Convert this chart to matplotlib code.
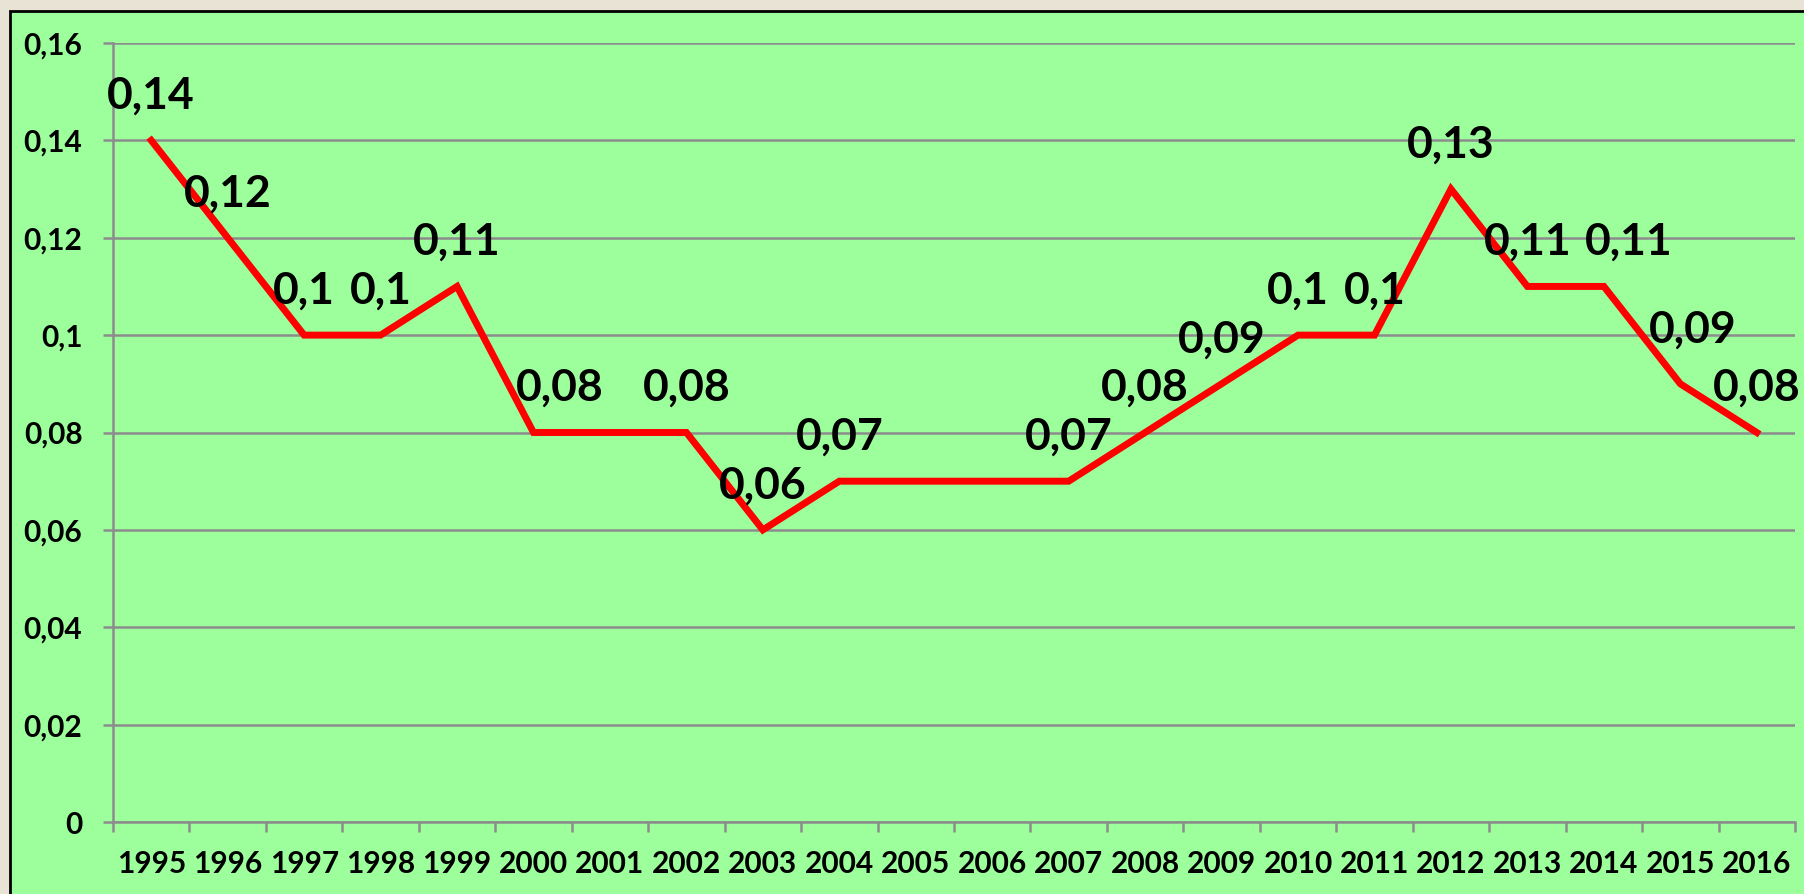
import numpy as np
import matplotlib.pyplot as plt
from matplotlib.patches import Rectangle
from matplotlib.ticker import FixedLocator, FuncFormatter

# Data
years = ['1995', '1996', '1997', '1998', '1999', '2000', '2001', '2002', '2003', '2004', '2005',
         '2006', '2007', '2008', '2009', '2010', '2011', '2012', '2013', '2014', '2015', '2016']
values = [0.14, 0.12, 0.10, 0.10, 0.11, 0.08, 0.08, 0.08, 0.06, 0.07, 0.07,
          0.07, 0.07, 0.08, 0.09, 0.10, 0.10, 0.13, 0.11, 0.11, 0.09, 0.08]
# which points carry a value label
show_label = [1, 1, 1, 1, 1, 1, 0, 1, 1, 1, 0,
              0, 1, 1, 1, 1, 1, 1, 1, 1, 1, 1]
# small label nudges (points), where the original shifted them
label_dx = {5: 19, 19: 18, 20: 9}
label_dy = {20: 39}

plt.rcParams['font.family'] = ['Lato', 'DejaVu Sans']
plt.rcParams['font.weight'] = 'bold'

green = '#9cff9c'
grid_gray = '#8c8c8c'

fig = plt.figure(figsize=(18.04, 8.94), dpi=100, facecolor='#e8e3d5')
fig.patches.append(Rectangle((10 / 1804, -0.01), 1.0, 1 - 11 / 894 + 0.01,
                             transform=fig.transFigure, facecolor=green,
                             edgecolor='black', linewidth=2, zorder=-5))

ax = fig.add_axes([113 / 1804, 1 - 822 / 894, (1795 - 113) / 1804, (822 - 43) / 894])
ax.set_facecolor(green)

x = np.arange(len(years))
ax.plot(x, values, color='#ff0000', linewidth=5, solid_joinstyle='miter', zorder=3)

for i, (v, s) in enumerate(zip(values, show_label)):
    if not s:
        continue
    txt = f"{v:g}".replace('.', ',')
    ax.annotate(txt, (i, v), xytext=(label_dx.get(i, 0), label_dy.get(i, 32)),
                textcoords='offset points', ha='center', va='center',
                fontsize=32, fontweight='bold', color='black', zorder=4,
                annotation_clip=False)

ax.set_xlim(-0.5, len(years) - 0.5)
ax.set_ylim(0, 0.16)
ax.set_yticks(np.arange(0, 0.161, 0.02))
ax.yaxis.set_major_formatter(FuncFormatter(lambda v, p: f"{v:g}".replace('.', ',')))
ax.yaxis.grid(True, color=grid_gray, linewidth=1.8)
ax.set_axisbelow(True)

ax.set_xticks(x)
ax.set_xticklabels(years)
ax.xaxis.set_minor_locator(FixedLocator(np.arange(-0.5, len(years), 1.0)))
ax.tick_params(axis='x', which='major', length=0, pad=20, labelsize=21.5)
ax.tick_params(axis='x', which='minor', length=7, width=1.8, color=grid_gray)
ax.tick_params(axis='y', length=7, width=1.8, color=grid_gray, pad=15, labelsize=21.5)

for side in ['top', 'right']:
    ax.spines[side].set_visible(False)
for side in ['left', 'bottom']:
    ax.spines[side].set_color(grid_gray)
    ax.spines[side].set_linewidth(1.8)

fig.savefig('out.png', dpi=100, facecolor=fig.get_facecolor())
